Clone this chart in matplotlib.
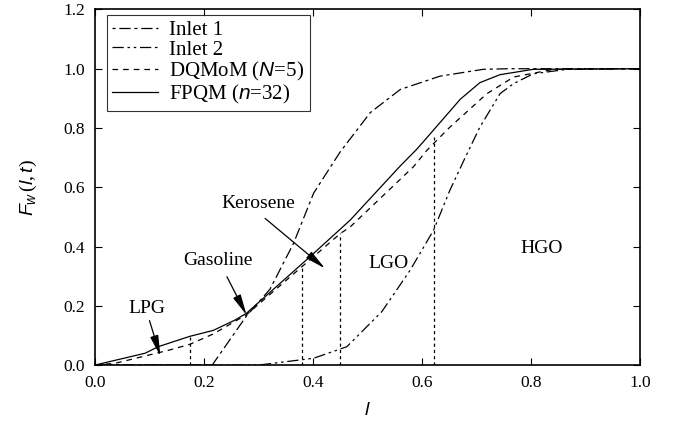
import numpy as np
import matplotlib
matplotlib.use("Agg")
import matplotlib.pyplot as plt

plt.rcParams['font.family'] = ['Liberation Serif', 'DejaVu Serif']
plt.rcParams['mathtext.fontset'] = 'custom'
plt.rcParams['mathtext.rm'] = 'Liberation Serif'
plt.rcParams['mathtext.it'] = 'Liberation Sans:italic'

# Inlet 1
l_in1 = [0.0, 0.215, 0.278, 0.321, 0.364, 0.401, 0.437, 0.45, 0.505, 0.56, 0.633, 0.712, 0.76, 1.0]
f_in1 = [0.0, 0.0, 0.166, 0.256, 0.41, 0.58, 0.683, 0.72, 0.852, 0.93, 0.975, 0.998, 1.0, 1.0]

# Inlet 2
l_in2 = [0.0, 0.30, 0.401, 0.462, 0.526, 0.578, 0.621, 0.651, 0.679, 0.706, 0.743, 0.768, 0.804, 0.866, 1.0]
f_in2 = [0.0, 0.0, 0.023, 0.062, 0.18, 0.32, 0.455, 0.59, 0.70, 0.803, 0.916, 0.95, 0.983, 0.998, 1.0]

# DQMoM (N=5)
l_dq = [0.0, 0.037, 0.135, 0.174, 0.217, 0.278, 0.379, 0.45, 0.468, 0.584, 0.609, 0.651, 0.719, 0.768, 0.841, 1.0]
f_dq = [0.0, 0.006, 0.05, 0.07, 0.105, 0.17, 0.331, 0.444, 0.466, 0.669, 0.725, 0.803, 0.916, 0.972, 0.998, 1.0]

# FPQM (n=32)
l_fp = [0.0, 0.092, 0.116, 0.174, 0.217, 0.257, 0.278, 0.394, 0.468, 0.56, 0.59, 0.602, 0.67, 0.706, 0.743, 0.804, 1.0]
f_fp = [0.0, 0.04, 0.062, 0.097, 0.117, 0.152, 0.175, 0.365, 0.489, 0.672, 0.728, 0.753, 0.897, 0.953, 0.98, 0.998, 1.0]

# cut points (dotted lines)
cut_l = [0.175, 0.379, 0.45, 0.621]
cut_top = [0.095, 0.337, 0.444, 0.77]

fig = plt.figure(figsize=(6.76, 4.30), dpi=100)
ax = fig.add_axes([0.1405, 0.151, 0.8065, 0.827])

lw = 0.9
ax.plot(l_in1, f_in1, color='black', lw=lw, dashes=(2.5, 3, 9, 3), label='Inlet 1')
ax.plot(l_in2, f_in2, color='black', lw=lw, dashes=(9, 3, 2, 3, 2, 3), label='Inlet 2')
ax.plot(l_dq, f_dq, color='black', lw=lw, dashes=(4.5, 4), label=r'DQMoM ($N$=5)')
ax.plot(l_fp, f_fp, color='black', lw=lw, label=r'FPQM ($n$=32)')

for x, top in zip(cut_l, cut_top):
    ax.plot([x, x], [0, top], color='black', lw=0.9, dashes=(2.5, 2.5))

arr = dict(arrowstyle='-|>,head_length=0.9,head_width=0.18', color='black', lw=0.9,
           mutation_scale=14, shrinkA=0, shrinkB=0)
ax.annotate('', xy=(0.12, 0.03), xytext=(0.10, 0.15), arrowprops=arr)
ax.annotate('', xy=(0.278, 0.169), xytext=(0.242, 0.298), arrowprops=arr)
ax.annotate('', xy=(0.422, 0.326), xytext=(0.312, 0.495), arrowprops=arr)

ax.text(0.095, 0.191, 'LPG', fontsize=14, ha='center', va='center')
ax.text(0.226, 0.354, 'Gasoline', fontsize=14, ha='center', va='center')
ax.text(0.30, 0.545, 'Kerosene', fontsize=14, ha='center', va='center')
ax.text(0.538, 0.343, 'LGO', fontsize=14, ha='center', va='center')
ax.text(0.82, 0.393, 'HGO', fontsize=14, ha='center', va='center')

ax.set_xlim(0, 1.0)
ax.set_ylim(0, 1.2)
ax.set_xticks(np.arange(0, 1.01, 0.2))
ax.set_yticks(np.arange(0, 1.21, 0.2))
ax.set_xticklabels(['0.0', '0.2', '0.4', '0.6', '0.8', '1.0'])
ax.set_yticklabels(['0.0', '0.2', '0.4', '0.6', '0.8', '1.0', '1.2'])
ax.tick_params(direction='in', top=True, right=True, length=5, width=0.8,
               labelsize=12.5, pad=7)
for s in ax.spines.values():
    s.set_linewidth(1.2)

ax.set_xlabel('$l$', fontsize=14, labelpad=8)
ax.set_ylabel(r'$F_w\,(l,t)$', fontsize=14, labelpad=18)

leg = ax.legend(loc='upper left', bbox_to_anchor=(0.022, 0.984), fontsize=15,
                frameon=True, fancybox=False, edgecolor='black', handlelength=2.2,
                borderpad=0.25, labelspacing=0.0, handletextpad=0.55, borderaxespad=0)
leg.get_frame().set_linewidth(0.8)

fig.savefig('out.png', dpi=100)
